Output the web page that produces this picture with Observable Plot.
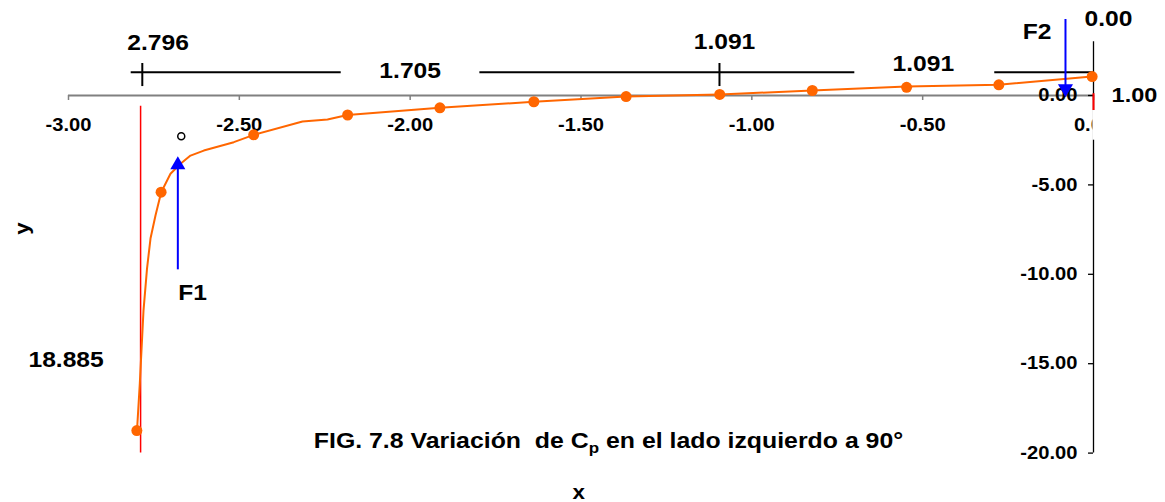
<!DOCTYPE html>
<html><head><meta charset="utf-8">
<script src="https://cdn.jsdelivr.net/npm/d3@7"></script>
<script src="https://cdn.jsdelivr.net/npm/@observablehq/plot@0.6"></script>
<style>
html,body{margin:0;padding:0;background:#fff;}
#chart svg text{white-space:pre;}
</style></head><body><div id="chart"></div>
<script>
// ---- data ----
const curveX = [-2.7995,-2.7913,-2.7805,-2.7702,-2.7600,-2.7454,-2.7287,-2.7015,-2.6722,-2.6429,-2.6040,-2.5162,-2.4577,-2.3151,-2.2420,-2.1834,-1.9133,-1.6381,-1.3677,-1.0938,-0.8233,-0.5473,-0.2772,-0.0044];
const curveY = [-18.74,-16.11,-12.03,-9.68,-8.00,-6.71,-5.41,-4.38,-3.82,-3.36,-3.08,-2.61,-2.20,-1.45,-1.34,-1.09,-0.69,-0.35,-0.06,0.06,0.28,0.50,0.60,1.06];
const pointX = [-2.800,-2.729,-2.458,-2.183,-1.913,-1.638,-1.368,-1.094,-0.823,-0.547,-0.277,-0.004];
const pointY = [-18.74,-5.41,-2.20,-1.09,-0.69,-0.35,-0.06,0.06,0.28,0.46,0.60,1.06];
const xTicks = [-3,-2.5,-2,-1.5,-1,-0.5,0];
const yTicks = [0,-5,-10,-15,-20];
const dimLabels = ["2.796","1.705","1.091","1.091"];
const leftLimitX = -2.789;
const dimTickX = [-2.784,-1.0947];
const dimSegStart = [-2.8165,-1.796,-0.289];
const dimSegEnd = [-2.2018,-0.6986,0];
const forceLabels = ["F1","F2"];
const forceX = [-2.680,-0.082];
const forceFrom = [-9.75,4.25];
const forceTo = [-3.88,0.39];
const pointLabel = "18.885";
const markerX = [-2.670], markerY = [-2.28];
const caption = "FIG. 7.8 Variación  de Cp en el lado izquierdo a 90°";

// ---- layout (annotation placement, in data units) ----
const fmt = d => d.toFixed(2);
const font = "'Liberation Sans', Arial, sans-serif";
const textNotes = [
  {t: dimLabels[0], x: -2.738, y: 2.96, s: 22},
  {t: dimLabels[1], x: -2.0, y: 1.40, s: 22},
  {t: dimLabels[2], x: -1.080, y: 2.98, s: 22},
  {t: dimLabels[3], x: -0.498, y: 1.77, s: 22},
  {t: forceLabels[1], x: -0.165, y: 3.58, s: 22},
  {t: "0.00", x: 0.044, y: 4.29, s: 22},
  {t: "1.00", x: 0.120, y: 0.03, s: 21},
  {t: forceLabels[0], x: -2.637, y: -11.02, s: 22},
  {t: pointLabel, x: -3.007, y: -14.79, s: 22}
];

const curve = curveX.map((x,i)=>({x, y: curveY[i]}));
const points = pointX.map((x,i)=>({x, y: pointY[i]}));
const segs = dimSegStart.map((a,i)=>({a, b: dimSegEnd[i]}));
const forces = forceX.map((x,i)=>({x, from: forceFrom[i], to: forceTo[i], rot: i===0?0:180}));
const markers = markerX.map((x,i)=>({x, y: markerY[i]}));

const chart = Plot.plot({
  width: 1165, height: 502,
  marginLeft: 68, marginRight: 72, marginTop: 95, marginBottom: 49.4,
  x: {domain: [-3, 0], axis: null},
  y: {domain: [-20, 0], axis: null},
  style: {fontFamily: font, background: "white", overflow: "visible"},
  marks: [
    Plot.ruleX([leftLimitX], {x: d=>d, y1: -0.6, y2: -20, stroke: "#FF0000", strokeWidth: 1.5}),
    Plot.ruleY([0], {x1: -3, x2: 0, stroke: "#808080", strokeWidth: 2}),
    Plot.ruleX(xTicks, {x: d=>d, y1: 0, y2: -0.28, stroke: "#808080", strokeWidth: 1.5}),
    Plot.text(xTicks, {x: d=>d, y: 0, dy: 30, text: fmt, fontSize: 18, fontWeight: "bold", fill: "black"}),
    Plot.ruleX([0], {y1: 3, y2: -20, stroke: "black", strokeWidth: 1.3}),
    Plot.ruleY(yTicks, {y: d=>d, x1: -0.0146, x2: 0, stroke: "black", strokeWidth: 1.3}),
    Plot.text(yTicks, {x: 0, y: d=>d, dx: -16, textAnchor: "end", text: fmt, fontSize: 18, fontWeight: "bold", fill: "black"}),
    Plot.ruleX([0], {x: d=>d, y1: 0.1, y2: -0.84, stroke: "#FF0000", strokeWidth: 2}),
    Plot.rect([0], {x1: -0.0018, x2: 0.06, y1: -0.84, y2: -2.5, fill: "white"}),
    Plot.ruleY(segs, {y: 1.30, x1: "a", x2: "b", stroke: "black", strokeWidth: 2}),
    Plot.ruleX(dimTickX, {x: d=>d, y1: 1.79, y2: 0.5, stroke: "black", strokeWidth: 2}),
    Plot.line(curve, {x: "x", y: "y", stroke: "#FF6600", strokeWidth: 2}),
    Plot.dot(points, {x: "x", y: "y", r: 5.5, fill: "#FF6600"}),
    Plot.dot(markers, {x: "x", y: "y", r: 3.5, stroke: "black", fill: "white", strokeWidth: 1.5}),
    Plot.ruleX(forces, {x: "x", y1: "from", y2: "to", stroke: "#0000FF", strokeWidth: 2}),
    Plot.dot(forces, {x: "x", y: "to", symbol: "triangle", r: 5.6, fill: "#0000FF", rotate: "rot"}),
    Plot.text(textNotes, {x: "x", y: "y", text: "t", fontSize: d=>d.s, fontWeight: "bold", fill: "black"}),
    Plot.text(["y"], {x: -3.1346, y: -7.44, text: d=>d, rotate: -90, fontSize: 20, fontWeight: "bold", fill: "black"}),
    Plot.text(["x"], {x: -1.507, y: -22.2, text: d=>d, fontSize: 20, fontWeight: "bold", fill: "black"}),
    Plot.text([caption], {x: -1.4195, y: -19.30, text: d=>d, fontSize: 22, fontWeight: "bold", fill: "black"})
  ]
});
document.getElementById("chart").appendChild(chart);

// subscript "p" in caption + slight horizontal stretch of all labels (as in the original)
d3.select(chart).selectAll("text").each(function(){
  const isCaption = this.textContent === caption;
  if (isCaption) {
    const el = d3.select(this);
    el.text(null);
    el.append("tspan").text("FIG. 7.8 Variación  de C");
    el.append("tspan").attr("dy", 5).attr("font-size", 15).text("p");
    el.append("tspan").attr("dy", -5).text(" en el lado izquierdo a 90°");
  }
  let t = this.getAttribute("transform");
  if (!t) {
    const x = +this.getAttribute("x") || 0, y = +this.getAttribute("y") || 0;
    this.removeAttribute("x"); this.removeAttribute("y");
    t = `translate(${x},${y})`;
  }
  this.setAttribute("transform", t + ` scale(${isCaption ? 1.13 : 1.12},1)`);
});
</script></body></html>
